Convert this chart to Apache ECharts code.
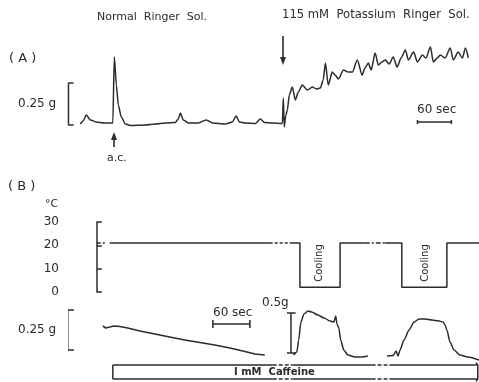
<!DOCTYPE html>
<html>
<head>
<meta charset="utf-8">
<script src="https://cdn.jsdelivr.net/npm/echarts@6/dist/echarts.min.js"></script>
<style>
  html, body { margin: 0; padding: 0; background: #fff; }
  #chart { width: 479px; height: 382px; }
</style>
</head>
<body>
<div id="chart"></div>
<script>
// ---- data (time in s, force in g, temperature in °C) ----
// (A) normal ringer -> 115 mM K ringer
const traceA = [
  [0, 0.036], [5, 0.054], [10.6, 0.089], [17.7, 0.06], [28, 0.048], [42, 0.042], [55, 0.042],
  [57.5, 0.042], [60.2, 0.435], [63.8, 0.268], [67.3, 0.149], [72.6, 0.077], [79.7, 0.036],
  [88.5, 0.027], [115, 0.03], [133, 0.036], [150.5, 0.042], [168, 0.045], [173.5, 0.065],
  [177, 0.101], [182.4, 0.06], [191, 0.042], [209, 0.042], [223, 0.06], [234, 0.042],
  [257, 0.036], [269, 0.048], [276, 0.083], [281.6, 0.048], [292, 0.042], [310, 0.039],
  [318.8, 0.065], [326, 0.045], [340, 0.042], [357.7, 0.039],
  [359.5, 0.19], [361, 0.018], [364, 0.089], [366.6, 0.119], [370, 0.208], [375.4, 0.256],
  [380.7, 0.179], [386, 0.226], [393, 0.268], [402, 0.238], [411, 0.256], [418, 0.244],
  [425, 0.25], [430, 0.298], [434, 0.399], [439, 0.268], [446, 0.345], [451, 0.327],
  [457, 0.304], [466, 0.357], [474.6, 0.345], [481.7, 0.345], [490.5, 0.417], [499, 0.327],
  [504, 0.369], [510, 0.399], [515, 0.357], [522, 0.458], [527.7, 0.387], [534, 0.405],
  [540, 0.417], [547, 0.393], [554, 0.435], [561, 0.375], [568, 0.429], [575.5, 0.476],
  [581, 0.417], [590, 0.464], [597, 0.405], [605.6, 0.446], [612, 0.429], [620, 0.494],
  [625, 0.405], [632, 0.429], [637.5, 0.446], [646, 0.429], [655, 0.488], [660.5, 0.417],
  [669, 0.464], [676.5, 0.429], [682, 0.488], [687, 0.429]
];

// (B) bath temperature
const tempLead = [[0, 21], [13, 21]];
const tempHold = [[21, 21], [280, 21]];
const tempBreak1 = [[280, 21], [316, 21]];
const tempCool1 = [[316, 21], [329, 21], [329, 2], [394, 2], [394, 21], [434, 21]];
const tempBreak2 = [[434, 21], [467, 21]];
const tempCool2 = [[467, 21], [494, 21], [494, 2], [567, 2], [567, 21], [619, 21]];
const tempTicks = [0, 10, 20, 30];

// (B) tension in 1 mM caffeine
const traceCaf = [
  [9.7, 0.2125], [14.6, 0.2], [21, 0.206], [27.5, 0.2125], [37.3, 0.209], [50, 0.2],
  [69.7, 0.181], [94, 0.1625], [118, 0.144], [142.6, 0.125], [167, 0.109], [191, 0.094],
  [215.5, 0.075], [240, 0.053], [256, 0.0375], [272, 0.031]
];
const traceCool1 = [
  [319, 0.0625], [324, 0.1], [327, 0.25], [330.6, 0.475], [335.5, 0.575], [342, 0.612],
  [348, 0.6], [358, 0.5625], [368, 0.525], [377.6, 0.4875], [384, 0.475], [387, 0.55],
  [389, 0.45], [392, 0.4], [395, 0.25], [400, 0.125], [406.8, 0.0625], [418, 0.0375],
  [429, 0.0375], [439, 0.05]
];
const traceCool2 = [
  [470, 0.05], [480, 0.056], [484.6, 0.1125], [488, 0.05], [491, 0.125], [497.6, 0.25],
  [505.7, 0.375], [513.8, 0.475], [522, 0.5125], [531.6, 0.5125], [543, 0.5], [552.7, 0.49],
  [560.8, 0.475], [564, 0.4375], [567, 0.375], [572, 0.225], [578.6, 0.125], [588, 0.0625],
  [601, 0.0375], [619, 0]
];
// caffeine application (start, breaks, end) on the B time axis
const cafStart = 26;
const cafEnd = 617;
const cafBreaks = [[285, 317], [445, 474]];

const INK = '#2b2b2b';
const FONT = 'DejaVu Sans';

const chart = echarts.init(document.getElementById('chart'));

function line(idx, data, extra) {
  return Object.assign({
    type: 'line', xAxisIndex: idx, yAxisIndex: idx, data: data,
    symbol: 'none', clip: false, silent: true, animation: false,
    lineStyle: { color: INK, width: 1.5 }
  }, extra || {});
}
function dashed(idx, data, dash) {
  return line(idx, data, { lineStyle: { color: INK, width: 1.5, type: dash } });
}
function trace(idx, data) {
  return line(idx, data, { smooth: 0.25, smoothMonotone: 'x' });
}

// scale bars
const barA = [[-12, 0.28], [-21, 0.28], [-21, 0.03], [-12, 0.03]];
const secA = [[597, 0.036], [597, 0.06], [597, 0.048], [657, 0.048], [657, 0.036], [657, 0.06]];
const barB1 = [[-37, 0.3125], [-47, 0.3125], [-47, 0.0625], [-37, 0.0625]];
const secB = [[188, 0.2], [188, 0.25], [188, 0.225], [248, 0.225], [248, 0.2], [248, 0.25]];
const barB2 = [[308, 0.5875], [322, 0.5875], [314.5, 0.5875], [314.5, 0.0875], [308, 0.0875], [322, 0.0875]];

// caffeine bar drawn in grid 3 units
const cafTop = -0.0625, cafBot = -0.2375;
const cafSolid = [];
const cafDash = [];
let prev = cafStart;
cafBreaks.forEach(b => {
  cafSolid.push([[prev, cafTop], [b[0], cafTop]], [[prev, cafBot], [b[0], cafBot]]);
  cafDash.push([[b[0], cafTop], [b[1], cafTop]], [[b[0], cafBot], [b[1], cafBot]]);
  prev = b[1];
});
cafSolid.push([[prev, cafTop], [cafEnd, cafTop]], [[prev, cafBot], [cafEnd, cafBot]]);
cafSolid.push([[cafStart, cafTop], [cafStart, cafBot]]);
cafSolid.push([[cafEnd - 3, cafTop + 0.03], [cafEnd, cafTop], [cafEnd, cafBot], [cafEnd - 3, cafBot - 0.03]]);

const series = [
  trace(0, traceA),
  line(0, barA),
  line(0, secA),
  dashed(1, tempLead, [4, 2]),
  line(1, tempHold),
  dashed(1, tempBreak1, [3, 2]),
  line(1, tempCool1),
  dashed(1, tempBreak2, [5, 2, 2, 2]),
  line(1, tempCool2),
  line(2, traceCaf),
  line(2, barB1),
  line(2, secB),
  trace(3, traceCool1),
  trace(3, traceCool2),
  line(3, barB2)
];
cafSolid.forEach(s => series.push(line(3, s)));
cafDash.forEach(s => series.push(dashed(3, s, [4, 2])));

function txt(x, y, text, size, extra) {
  const ex = extra || {};
  const el = {
    type: 'text', x: x, y: y, silent: true,
    style: Object.assign({ text: text, fill: INK, fontSize: size, fontFamily: FONT,
      align: 'left', verticalAlign: 'middle' }, ex.style || {})
  };
  if (ex.rotation !== undefined) el.rotation = ex.rotation;
  return el;
}
function arrow(x, y0, y1) {
  const dir = y1 > y0 ? 1 : -1;
  return [
    { type: 'line', silent: true, shape: { x1: x, y1: y0, x2: x, y2: y1 - dir * 6 },
      style: { stroke: INK, lineWidth: 1.6 } },
    { type: 'polygon', silent: true,
      shape: { points: [[x - 3, y1 - dir * 8], [x + 3, y1 - dir * 8], [x, y1]] },
      style: { fill: INK } }
  ];
}

const hidden = { show: false };
const option = {
  animation: false,
  grid: [
    { left: 60, right: 9, top: 46, height: 84 },
    { left: 69, right: 0, top: 222, height: 70 },
    { left: 69, right: 0, top: 300, height: 60 },
    { left: 69, right: 0, top: 300, height: 60 }
  ],
  xAxis: [
    { type: 'value', gridIndex: 0, min: -36, max: 690, show: false },
    { type: 'value', gridIndex: 1, min: -45, max: 619, show: false },
    { type: 'value', gridIndex: 2, min: -45, max: 619, show: false },
    { type: 'value', gridIndex: 3, min: -45, max: 619, show: false }
  ],
  yAxis: [
    { type: 'value', gridIndex: 0, min: 0, max: 0.5, show: false },
    {
      type: 'value', gridIndex: 1, min: tempTicks[0], max: tempTicks[tempTicks.length - 1], interval: 10,
      axisLine: { show: true, lineStyle: { color: INK, width: 1.5 } },
      axisTick: { show: true, inside: true, length: 5, lineStyle: { color: INK, width: 1.5 } },
      axisLabel: { color: INK, fontSize: 12, fontFamily: FONT, margin: 10 },
      splitLine: hidden
    },
    { type: 'value', gridIndex: 2, min: 0, max: 0.375, show: false },
    { type: 'value', gridIndex: 3, min: 0, max: 0.75, show: false }
  ],
  graphic: [
    txt(97, 17, 'Normal  Ringer  Sol.', 11),
    txt(282, 15, '115 mM  Potassium  Ringer  Sol.', 11.6),
    txt(9, 59, '( A )', 13),
    txt(18, 104, '0.25 g', 12),
    txt(417, 110, '60 sec', 12),
    txt(107, 158, 'a.c.', 11),
    ...arrow(283, 36, 65),
    ...arrow(114, 147, 132),
    txt(8, 187, '( B )', 13),
    txt(45, 204, '°C', 11),
    txt(319, 263, 'Cooling', 10, { rotation: Math.PI / 2, style: { align: 'center' } }),
    txt(425, 263, 'Cooling', 10, { rotation: Math.PI / 2, style: { align: 'center' } }),
    txt(18, 330, '0.25 g', 12),
    txt(213, 313, '60 sec', 12),
    txt(262, 303, '0.5g', 12),
    txt(234, 372, 'I mM  Caffeine', 10, { style: { fontWeight: 'bold' } })
  ],
  series: series
};
chart.setOption(option);
</script>
</body>
</html>
